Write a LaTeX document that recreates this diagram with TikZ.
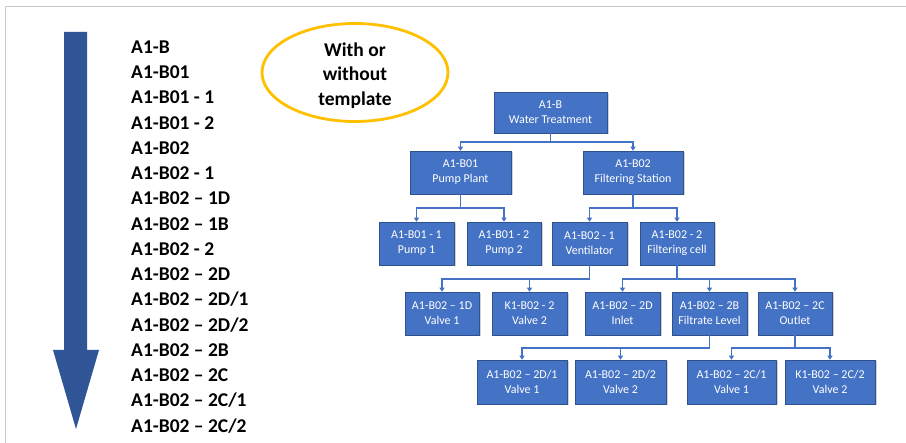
\documentclass[tikz,border=0pt]{standalone}
\usepackage{fontspec}
\setmainfont{Carlito}
\usetikzlibrary{arrows.meta,shadows,shapes.geometric}
\definecolor{boxblue}{HTML}{4472C4}
\definecolor{boxedge}{HTML}{2F528F}
\definecolor{arrowblue}{HTML}{2F5597}
\definecolor{goldring}{HTML}{FFC000}
\definecolor{framegray}{HTML}{C8C8C8}

\begin{document}
\begin{tikzpicture}[x=1pt,y=-1pt,
  unit/.style={draw=boxedge, line width=0.6pt, fill=boxblue, text=white,
    font=\fontsize{12}{15}\selectfont, align=center, inner sep=0pt,
    drop shadow={shadow xshift=1.5pt, shadow yshift=-1.5pt, opacity=0.35}},
  lvltwo/.style={unit, minimum height=43pt},
  link/.style={draw=boxblue, line width=1.3pt, -{Triangle[length=4pt,width=5pt]}},
  code/.style={anchor=base west, inner sep=0pt, font=\fontsize{19.5}{24}\selectfont\bfseries},
]
\useasboundingbox (0,0) rectangle (906,443);
\fill[white] (0,0) rectangle (906,443);

% page frame
\draw[framegray, line width=1pt] (5,443) -- (5,7) -- (906,7);

% big downward arrow
\fill[arrowblue] (64,32) -- (87,32) -- (87,350) -- (99,350) -- (76,429)
  -- (53,350) -- (64,350) -- cycle;

% code list
\foreach \t [count=\i from 0] in {A1-B, A1-B01, A1-B01 - 1, A1-B01 - 2, A1-B02,
  A1-B02 - 1, A1-B02 – 1D, A1-B02 – 1B, A1-B02 - 2, A1-B02 – 2D, A1-B02 – 2D/1,
  A1-B02 – 2D/2, A1-B02 – 2B, A1-B02 – 2C, A1-B02 – 2C/1, A1-B02 – 2C/2}
  \node[code] (l\i) at (131, 53.3+25.25*\i) {\t};

% template note: ring with its centred caption
\node[draw=goldring, line width=2.8pt, ellipse, minimum width=186pt, minimum height=98pt,
  inner sep=0pt] (tpl) at (355,72.5) {};
\node[align=center, inner sep=0pt, font=\fontsize{19.5}{24.5}\selectfont\bfseries]
  (tpltext) at (355,75.5) {With or\\without\\template};

% hierarchy
\node[unit, minimum width=113pt, minimum height=41pt] (root) at (550.5,112.5) {A1-B\\Water Treatment};

\node[lvltwo, minimum width=101pt] (b01) at (460.5,172.5) {A1-B01\\Pump Plant};
\node[lvltwo, minimum width=100pt] (b02) at (633,172.5) {A1-B02\\Filtering Station};

\node[lvltwo, minimum width=75pt] (b011) at (416.5,243.5) {A1-B01 - 1\\Pump 1};
\node[lvltwo, minimum width=74pt] (b012) at (504,243.5) {A1-B01 - 2\\Pump 2};
\node[lvltwo, minimum width=75pt] (b021) at (589.5,243.5) {A1-B02 - 1\\Ventilator};
\node[lvltwo, minimum width=74pt] (b022) at (677,243.5) {A1-B02 - 2\\Filtering cell};

\node[lvltwo, minimum width=74pt] (v1d) at (442,313.5) {A1-B02 – 1D\\Valve 1};
\node[lvltwo, minimum width=75pt] (k2) at (529.5,313.5) {K1-B02 - 2\\Valve 2};
\node[lvltwo, minimum width=75pt] (c2d) at (622.5,313.5) {A1-B02 – 2D\\Inlet};
\node[lvltwo, minimum width=75pt] (c2b) at (709.5,313.5) {A1-B02 – 2B\\Filtrate Level};
\node[lvltwo, minimum width=74pt] (c2c) at (795,313.5) {A1-B02 – 2C\\Outlet};

\node[unit, minimum height=44pt, minimum width=90pt] (d1) at (522,382) {A1-B02 – 2D/1\\Valve 1};
\node[unit, minimum height=44pt, minimum width=91pt] (d2) at (620.5,382) {A1-B02 – 2D/2\\Valve 2};
\node[unit, minimum height=44pt, minimum width=89pt] (e1) at (731.5,382) {A1-B02 – 2C/1\\Valve 1};
\node[unit, minimum height=44pt, minimum width=90pt] (e2) at (830,382) {K1-B02 – 2C/2\\Valve 2};

% elbow junctions
\coordinate (jroot) at (550.5,142);
\coordinate (jb01) at (460.5,208);
\coordinate (jb02) at (633,208);
\coordinate (jb021) at (589.5,279);
\coordinate (jb022) at (677,279);
\coordinate (jc2b) at (709.5,348);
\coordinate (jc2c) at (795,348);

\foreach \c in {b01,b02} \draw[link] (root.south) -- (jroot) -| (\c.north);
\foreach \c in {b011,b012} \draw[link] (b01.south) -- (jb01) -| (\c.north);
\foreach \c in {b021,b022} \draw[link] (b02.south) -- (jb02) -| (\c.north);
\foreach \c in {v1d,k2} \draw[link] (b021.south) -- (jb021) -| (\c.north);
\foreach \c in {c2d,c2b,c2c} \draw[link] (b022.south) -- (jb022) -| (\c.north);
\foreach \c in {d1,d2} \draw[link] (c2b.south) -- (jc2b) -| (\c.north);
\foreach \c in {e1,e2} \draw[link] (c2c.south) -- (jc2c) -| (\c.north);
\end{tikzpicture}
\end{document}
